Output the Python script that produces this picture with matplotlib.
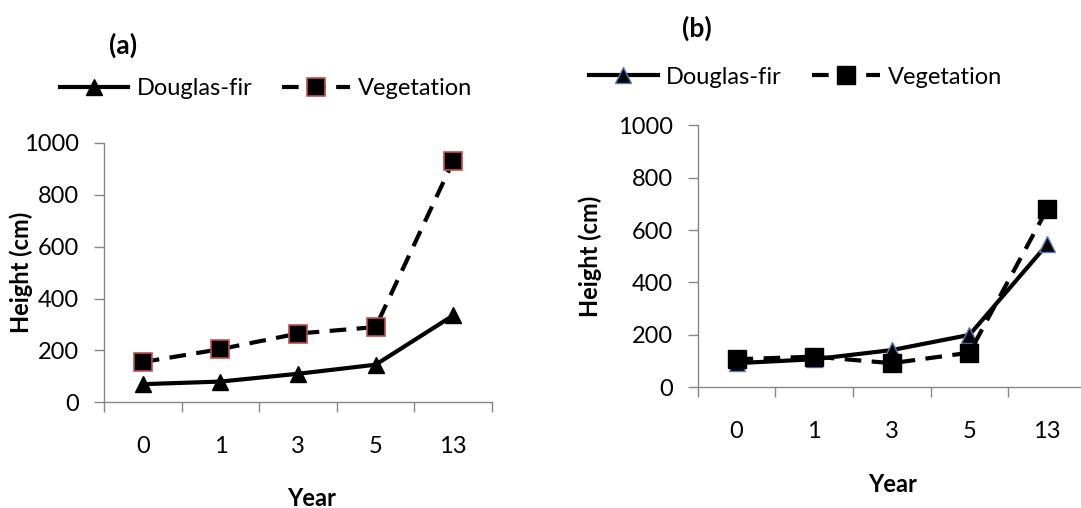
import matplotlib
matplotlib.use("Agg")
import matplotlib.pyplot as plt

plt.rcParams['font.family'] = ['Lato', 'DejaVu Sans']

years = ["0", "1", "3", "5", "13"]

fir_a = [70, 80, 110, 145, 335]
veg_a = [155, 205, 265, 290, 930]

fir_b = [92, 107, 142, 200, 545]
veg_b = [107, 117, 92, 132, 680]

GRAY = "#868686"


def style_axis(ax, xmax):
    x = range(len(years))
    ax.set_xlim(-0.5, xmax)
    ax.set_ylim(0, 1000)
    ax.set_yticks([0, 200, 400, 600, 800, 1000])
    ax.set_xticks(list(x))
    ax.set_xticklabels(years)
    ax.set_xticks([i - 0.5 for i in range(len(years) + 1)], minor=True)
    for s in ["top", "right"]:
        ax.spines[s].set_visible(False)
    for s in ["left", "bottom"]:
        ax.spines[s].set_color(GRAY)
        ax.spines[s].set_linewidth(1.0)
    ax.tick_params(axis="x", which="major", length=0, pad=24, labelsize=17)
    ax.tick_params(axis="x", which="minor", length=7, color=GRAY, width=1.0, direction="out")
    ax.tick_params(axis="y", length=7, color=GRAY, width=1.0, pad=11, labelsize=17)
    ax.set_ylabel("Height (cm)", fontsize=17, fontweight="bold")
    ax.set_xlabel("Year", fontsize=17, fontweight="bold")


fig = plt.figure(figsize=(10.81, 5.08), dpi=100)

# panel (a)
ax1 = fig.add_axes([0.0962, 0.208, 0.359, 0.511])
x = list(range(len(years)))
ax1.plot(x, fir_a, color="black", lw=3, marker="^", ms=12, mfc="black", mec="black",
         clip_on=False, label="Douglas-fir", zorder=3)
ax1.plot(x, veg_a, color="black", lw=3, dashes=[4, 2.5], marker="s", ms=13, mfc="black",
         mec="#C0504D", mew=1.2, clip_on=False, label="Vegetation", zorder=3)
style_axis(ax1, 4.17)
ax1.yaxis.set_label_coords(-0.183, 0.5)
ax1.xaxis.set_label_coords(0.536, -0.326)
fig.text(0.114, 0.911, "(a)", fontsize=19, fontweight="bold", ha="center", va="center")
fig.legend(handles=ax1.get_lines(), loc="center left", bbox_to_anchor=(0.0555, 0.825),
           ncol=2, frameon=False, fontsize=17, handlelength=2.9, handletextpad=0.35,
           columnspacing=1.23, borderpad=0, borderaxespad=0)

# panel (b)
ax2 = fig.add_axes([0.6454, 0.2376, 0.3592, 0.516])
ax2.plot(x, fir_b, color="black", lw=3, marker="^", ms=12, mfc="black", mec="#4F81BD",
         mew=1.0, clip_on=False, label="Douglas-fir", zorder=3)
ax2.plot(x, veg_b, color="black", lw=3, dashes=[4, 2.5], marker="s", ms=13, mfc="black",
         mec="black", clip_on=False, label="Vegetation", zorder=3)
style_axis(ax2, 4.5)
ax2.yaxis.set_label_coords(-0.246, 0.5)
ax2.xaxis.set_label_coords(0.503, -0.327)
fig.text(0.645, 0.945, "(b)", fontsize=19, fontweight="bold", ha="center", va="center")
fig.legend(handles=ax2.get_lines(), loc="center left", bbox_to_anchor=(0.545, 0.848),
           ncol=2, frameon=False, fontsize=17, handlelength=2.9, handletextpad=0.35,
           columnspacing=1.27, borderpad=0, borderaxespad=0)

fig.savefig("out.png", dpi=100)
